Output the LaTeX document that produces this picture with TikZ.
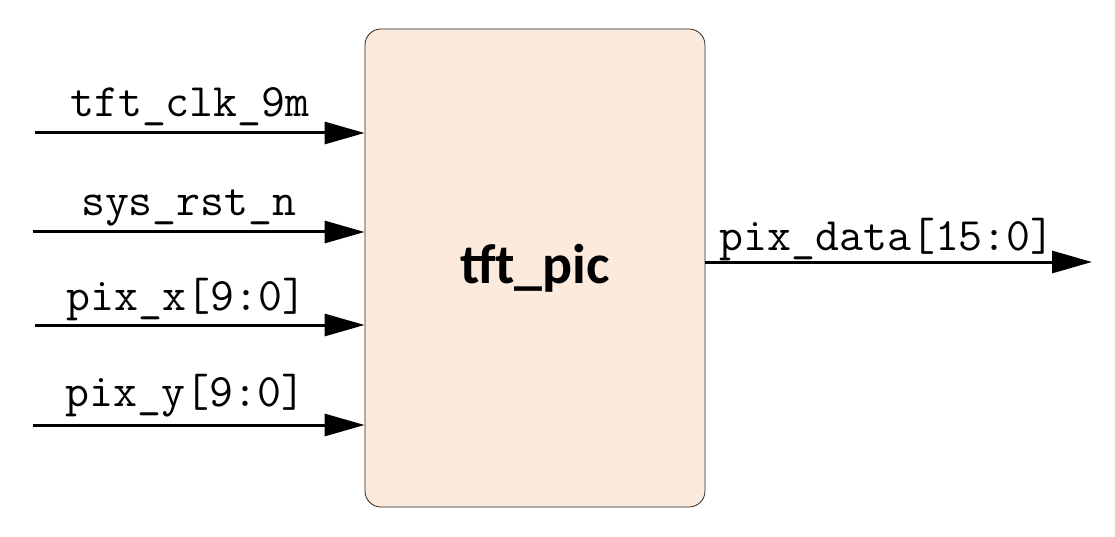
\documentclass[tikz,border=0pt]{standalone}
\usepackage{fontspec}
\newfontfamily\titlefont{Carlito}
\definecolor{picfill}{RGB}{252, 234, 220}
\definecolor{picedge}{RGB}{40, 40, 40}
\usetikzlibrary{arrows.meta, positioning}

\begin{document}
\begin{tikzpicture}[
    x=1pt, y=-1pt,
    module/.style={draw=picedge, line width=0.8pt, fill=picfill, rounded corners=16pt,
        minimum width=340pt, minimum height=478pt, inner sep=0pt},
    sig/.style={-{Triangle[length=40pt, width=22pt]}, line width=3pt},
    lbl/.style={font=\fontsize{46.5}{50}\selectfont\ttfamily, anchor=base, inner sep=0pt}
]
\useasboundingbox (0,0) rectangle (1115,537);

% Modulo
\node[module] (pic) at (535,268) {};
\node[font=\titlefont\bfseries\fontsize{56}{60}\selectfont] (title) at (pic.center) {tft\_pic};

% Entradas
\coordinate (clk) at (35,133);
\coordinate (rst) at (33,232);
\coordinate (px) at (35,325);
\coordinate (py) at (33,425);
\draw[sig] (clk) -- node[lbl, pos=.47, yshift=16pt] (clklbl) {tft\_clk\_9m} (clk -| pic.west);
\draw[sig] (rst) -- node[lbl, pos=.47, yshift=16pt] (rstlbl) {sys\_rst\_n} (rst -| pic.west);
\draw[sig] (px) -- node[lbl, pos=.46, yshift=15pt] (pxlbl) {pix\_x[9:0]} (px -| pic.west);
\draw[sig] (py) -- node[lbl, pos=.46, yshift=19pt] (pylbl) {pix\_y[9:0]} (py -| pic.west);

% Salida
\coordinate (out) at (1092,262);
\draw[sig] (out -| pic.east) -- node[lbl, pos=.47, yshift=11pt] (outlbl) {pix\_data[15:0]} (out);

\end{tikzpicture}
\end{document}
